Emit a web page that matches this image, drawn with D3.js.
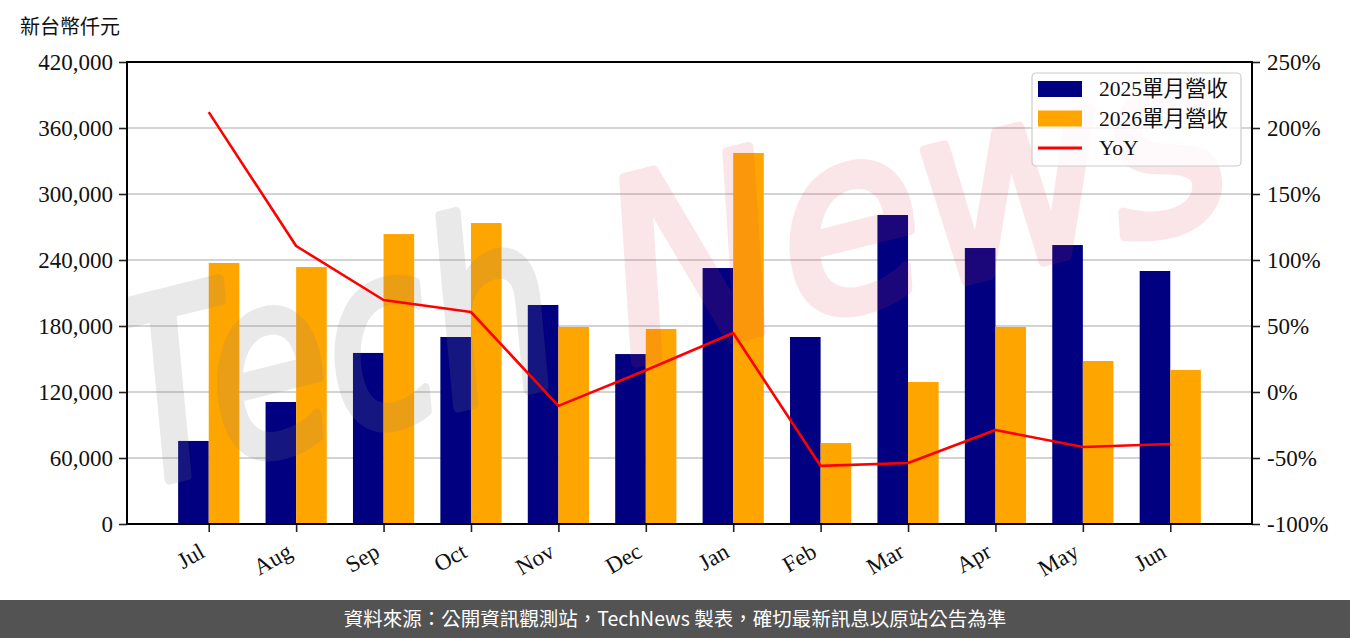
<!DOCTYPE html>
<html>
<head>
<meta charset="utf-8">
<script src="https://cdn.jsdelivr.net/npm/d3@7"></script>
<style>
  body { margin: 0; background: #fff; }
  svg { display: block; }
</style>
</head>
<body>
<script>
// monthly revenue, NT$ thousands
var months = ['Jul', 'Aug', 'Sep', 'Oct', 'Nov', 'Dec', 'Jan', 'Feb', 'Mar', 'Apr', 'May', 'Jun'];
var rev2025 = [75500, 110900, 155500, 170000, 199100, 154500, 232700, 170000, 280900, 250900, 253600, 230000];
var rev2026 = [237300, 233600, 263600, 273600, 179100, 177300, 337300, 73600, 129100, 179100, 148200, 140000];
var yoy = [212, 110.6, 69.7, 60.6, -10.5, 16.5, 44.7, -56, -53.8, -28.8, -41.7, -39.4];
var leftTicks = [0, 60000, 120000, 180000, 240000, 300000, 360000, 420000];
var rightTicks = [-100, -50, 0, 50, 100, 150, 200, 250];
var seriesNames = ['2025單月營收', '2026單月營收', 'YoY'];

var width = 1350, height = 638;
var plotL = 127, plotR = 1252, plotT = 62, plotB = 524;
var barW = 0.35;
var serif = '"Liberation Serif", "Noto Sans CJK TC", serif';

var svg = d3.select('body').append('svg')
	.attr('width', width).attr('height', height);

var x = d3.scaleLinear().domain([-0.935, 11.935]).range([plotL, plotR]);
var y = d3.scaleLinear().domain([0, 420000]).range([plotB, plotT]);
var yR = d3.scaleLinear().domain([-100, 250]).range([plotB, plotT]);

// unit label
svg.append('text')
	.attr('x', 20).attr('y', 34)
	.attr('font-family', '"Noto Sans CJK TC", sans-serif')
	.attr('font-size', 20)
	.attr('fill', '#111')
	.text('新台幣仟元');

// grid
svg.append('g').selectAll('line').data(leftTicks.slice(1, -1)).enter().append('line')
	.attr('x1', plotL).attr('x2', plotR)
	.attr('y1', function (d) { return y(d); })
	.attr('y2', function (d) { return y(d); })
	.attr('stroke', '#d3d3d3').attr('stroke-width', 2);

// bars
var idx = d3.range(months.length);
svg.append('g').selectAll('rect').data(idx).enter().append('rect')
	.attr('x', function (i) { return x(i - barW); })
	.attr('width', function (i) { return x(i) - x(i - barW); })
	.attr('y', function (i) { return y(rev2025[i]); })
	.attr('height', function (i) { return y(0) - y(rev2025[i]); })
	.attr('fill', '#000080');
svg.append('g').selectAll('rect').data(idx).enter().append('rect')
	.attr('x', function (i) { return x(i); })
	.attr('width', function (i) { return x(i + barW) - x(i); })
	.attr('y', function (i) { return y(rev2026[i]); })
	.attr('height', function (i) { return y(0) - y(rev2026[i]); })
	.attr('fill', '#ffa500');

// watermark
svg.append('clipPath').attr('id', 'plotclip').append('rect')
	.attr('x', plotL).attr('y', plotT).attr('width', plotR - plotL).attr('height', plotB - plotT);
var wm = svg.append('g').attr('clip-path', 'url(#plotclip)')
	.append('g').attr('transform', 'translate(135,488) rotate(-14)');
wm.append('g').attr('opacity', 0.17)
	.append('text')
	.attr('x', 0).attr('y', 0)
	.attr('font-family', '"DejaVu Sans", sans-serif')
	.attr('font-style', 'italic')
	.attr('font-size', 250)
	.attr('textLength', 450).attr('lengthAdjust', 'spacingAndGlyphs')
	.attr('fill', '#808080').attr('stroke', '#808080').attr('stroke-width', 10)
	.attr('stroke-linejoin', 'round')
	.text('Tech');
wm.append('g').attr('opacity', 0.12)
	.append('text')
	.attr('x', 510).attr('y', 0)
	.attr('font-family', '"DejaVu Sans", sans-serif')
	.attr('font-style', 'italic')
	.attr('font-size', 250)
	.attr('textLength', 630).attr('lengthAdjust', 'spacingAndGlyphs')
	.attr('fill', '#dc3c50').attr('stroke', '#dc3c50').attr('stroke-width', 10)
	.attr('stroke-linejoin', 'round')
	.text('News');

// yoy line
var line = d3.line()
	.x(function (d, i) { return x(i); })
	.y(function (d) { return yR(d); });
svg.append('path')
	.datum(yoy)
	.attr('d', line)
	.attr('fill', 'none')
	.attr('stroke', '#ff0000')
	.attr('stroke-width', 2.6)
	.attr('stroke-linejoin', 'round');

// axes
var axL = svg.append('g').attr('transform', 'translate(' + plotL + ',0)')
	.call(d3.axisLeft(y).tickValues(leftTicks).tickSize(8).tickPadding(6).tickFormat(d3.format(',')));
var axR = svg.append('g').attr('transform', 'translate(' + plotR + ',0)')
	.call(d3.axisRight(yR).tickValues(rightTicks).tickSize(8).tickPadding(7).tickFormat(function (d) { return d + '%'; }));
var axB = svg.append('g').attr('transform', 'translate(0,' + plotB + ')')
	.call(d3.axisBottom(x).tickValues(idx).tickSize(8).tickFormat(function (i) { return months[i]; }));

[axL, axR, axB].forEach(function (a) {
	a.select('.domain').remove();
	a.selectAll('.tick line').attr('stroke', '#222').attr('stroke-width', 1.6);
	a.selectAll('text')
		.attr('font-family', serif)
		.attr('font-size', 23)
		.attr('fill', '#111');
});
axB.selectAll('text')
	.attr('text-anchor', 'end')
	.attr('dy', '0.35em')
	.attr('transform', 'translate(-7,25) rotate(-30)')
	.attr('y', 0).attr('x', 0);

// frame
svg.append('rect')
	.attr('x', plotL).attr('y', plotT)
	.attr('width', plotR - plotL).attr('height', plotB - plotT)
	.attr('fill', 'none').attr('stroke', '#000').attr('stroke-width', 2);

// legend
var lg = svg.append('g').attr('transform', 'translate(1032,73)');
lg.append('rect')
	.attr('width', 209).attr('height', 93).attr('rx', 4)
	.attr('fill', '#fff').attr('fill-opacity', 0.8)
	.attr('stroke', '#ccc').attr('stroke-width', 1.2);
var colors = ['#000080', '#ffa500', '#ff0000'];
seriesNames.forEach(function (name, i) {
	var yy = 16 + i * 29.5;
	if (i < 2) {
		lg.append('rect').attr('x', 6).attr('y', yy - 8).attr('width', 44).attr('height', 16).attr('fill', colors[i]);
	} else {
		lg.append('line').attr('x1', 6).attr('x2', 50).attr('y1', yy).attr('y2', yy)
			.attr('stroke', colors[i]).attr('stroke-width', 3);
	}
	lg.append('text')
		.attr('x', 67).attr('y', yy + 7)
		.attr('font-family', serif)
		.attr('font-size', 21.5)
		.attr('fill', '#111')
		.text(name);
});

// footer
svg.append('rect')
	.attr('x', 0).attr('y', 600).attr('width', width).attr('height', 38)
	.attr('fill', '#535353');
svg.append('text')
	.attr('x', 675).attr('y', 626)
	.attr('text-anchor', 'middle')
	.attr('font-family', '"Noto Sans CJK TC", sans-serif')
	.attr('font-size', 19.5)
	.attr('fill', '#fff')
	.text('資料來源：公開資訊觀測站，TechNews 製表，確切最新訊息以原站公告為準');
</script>
</body>
</html>
